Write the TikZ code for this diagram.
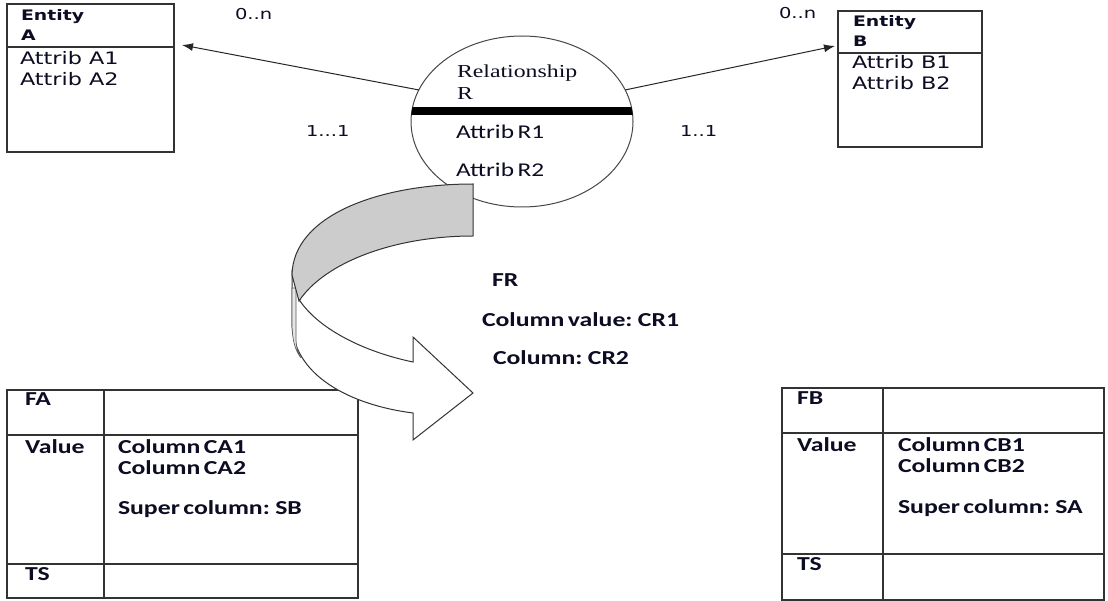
\documentclass[tikz,border=0pt]{standalone}
\usepackage{fontspec}
\usetikzlibrary{shapes.geometric,arrows.meta}
\newfontfamily\verd[FakeStretch=1.3]{DejaVu Sans}
\newfontfamily\cali[FakeStretch=1.3,WordSpace=0.6]{Carlito}
\newfontfamily\tms[FakeStretch=1.3]{Liberation Serif}
\definecolor{ink}{HTML}{0C0C22}
\definecolor{edge}{HTML}{333333}
\definecolor{band}{HTML}{CCCCCC}

\begin{document}
\begin{tikzpicture}[x=1pt,y=-1pt,
  boxline/.style={draw=edge,line width=1.4pt},
  ebox/.style={boxline,rectangle,inner sep=0pt,outer sep=0pt},
  conn/.style={draw=black!85,line width=1pt,-{Latex[length=11pt,width=8pt]}},
  lbl/.style={anchor=base west,inner sep=0pt,outer sep=0pt,text=ink},
  attr/.style={lbl,font=\verd\fontsize{17.2}{19}\selectfont},
  ent/.style={lbl,font=\verd\bfseries\fontsize{14.5}{16}\selectfont},
  card/.style={lbl,font=\verd\fontsize{15}{17}\selectfont},
  rattr/.style={lbl,font=\cali\fontsize{19.5}{21}\selectfont},
  rname/.style={lbl,font=\tms\fontsize{18.3}{20}\selectfont},
  cell/.style={lbl,font=\cali\bfseries\fontsize{19.8}{22}\selectfont},
]
\useasboundingbox (0,0) rectangle (1108,601);
\fill[white] (0,0) rectangle (1108,601);

% ---------- Entity A ----------
\node[ebox,minimum width=167pt,minimum height=148pt] (eA) at (90.5,78) {};
\draw[boxline] (eA.west |- 0,47) -- (eA.east |- 0,47);
\node[ent]  (eAt1) at (21,21) {Entity};
\node[ent]  (eAt2) at (21,41) {A};
\node[attr] (eAa1) at (20,65) {Attrib A1};
\node[attr] (eAa2) at (20,86) {Attrib A2};

% ---------- Entity B ----------
\node[ebox,minimum width=144pt,minimum height=136pt] (eB) at (910,79) {};
\draw[boxline] (eB.west |- 0,53) -- (eB.east |- 0,53);
\node[ent]  (eBt1) at (853,27) {Entity};
\node[ent]  (eBt2) at (853,47) {B};
\node[attr] (eBa1) at (852,69) {Attrib B1};
\node[attr] (eBa2) at (852,90) {Attrib B2};

% ---------- cardinalities ----------
\node[card] (cA1) at (235,20)  {0..n};
\node[card] (cA2) at (306,137) {1...1};
\node[card] (cB1) at (779,19)  {0..n};
\node[card] (cB2) at (680,137) {1..1};

% ---------- Relationship R ----------
\node[ellipse,draw=edge!90,line width=1pt,minimum width=222pt,minimum height=171pt,
      inner sep=0pt,outer sep=0pt] (rel) at (522,121.5) {};
\begin{scope}
  \clip (522,121.5) ellipse [x radius=111, y radius=85.5];
  \draw[line width=7.5pt,black] (405,111) -- (640,111);
\end{scope}
\node[rname] (relN1) at (457,78)  {Relationship};
\node[rname] (relN2) at (457,100) {R};
\node[rattr] (relA1) at (456,139) {Attrib R1};
\node[rattr] (relA2) at (456,177) {Attrib R2};

% ---------- relationship connectors ----------
\coordinate (tipA) at (182,45);
\coordinate (tipB) at (835,46);
\draw[conn] (rel.163) -- (tipA);
\draw[conn] (rel.17)  -- (tipB);

% ---------- column family FA ----------
\node[ebox,minimum width=351pt,minimum height=208pt] (tA) at (182.5,494) {};
\draw[boxline] (tA.north -| 104,0) -- (tA.south -| 104,0);
\draw[boxline] (tA.west |- 0,435) -- (tA.east |- 0,435);
\draw[boxline] (tA.west |- 0,564) -- (tA.east |- 0,564);
\node[cell] (tAk1) at (25,405)  {FA};
\node[cell] (tAk2) at (25,453)  {Value};
\node[cell] (tAv1) at (118,453) {Column CA1};
\node[cell] (tAv2) at (118,474) {Column CA2};
\node[cell] (tAv3) at (118,514) {Super column: SB};
\node[cell] (tAk3) at (25,580)  {TS};

% ---------- column family FB ----------
\node[ebox,minimum width=322pt,minimum height=212pt] (tB) at (943,494) {};
\draw[boxline] (tB.north -| 883,0) -- (tB.south -| 883,0);
\draw[boxline] (tB.west |- 0,433) -- (tB.east |- 0,433);
\draw[boxline] (tB.west |- 0,554) -- (tB.east |- 0,554);
\node[cell] (tBk1) at (797,404) {FB};
\node[cell] (tBk2) at (797,451) {Value};
\node[cell] (tBv1) at (898,451) {Column CB1};
\node[cell] (tBv2) at (898,472) {Column CB2};
\node[cell] (tBv3) at (898,513) {Super column: SA};
\node[cell] (tBk3) at (797,570) {TS};

% ---------- curved block arrow ----------
% front face
\filldraw[fill=white,draw=edge,line width=1pt]
  (292,273) -- (292,322) .. controls (292,375) and (350,405) .. (413,413)
  -- (413,440) -- (473,393) -- (413,337) -- (413,362)
  .. controls (365,352) and (320,330) .. (300,301) -- cycle;
% thin side strip
\filldraw[fill=band!50,draw=edge!80,line width=0.7pt]
  (296,288) -- (296,338) .. controls (296,347) and (298,353) .. (301,358)
  .. controls (295,350) and (292,340) .. (292,322) -- (292,288) -- cycle;
% back face
\filldraw[fill=band,draw=edge,line width=1pt]
  (473,184) .. controls (380,184) and (293,215) .. (292,275)
  -- (299,301) .. controls (325,262) and (395,236) .. (473,236) -- cycle;

% ---------- resulting column family FR ----------
\node[cell] (fr1) at (492,287) {FR};
\node[cell] (fr2) at (482,327) {Column value: CR1};
\node[cell] (fr3) at (493,365) {Column: CR2};
\end{tikzpicture}
\end{document}
